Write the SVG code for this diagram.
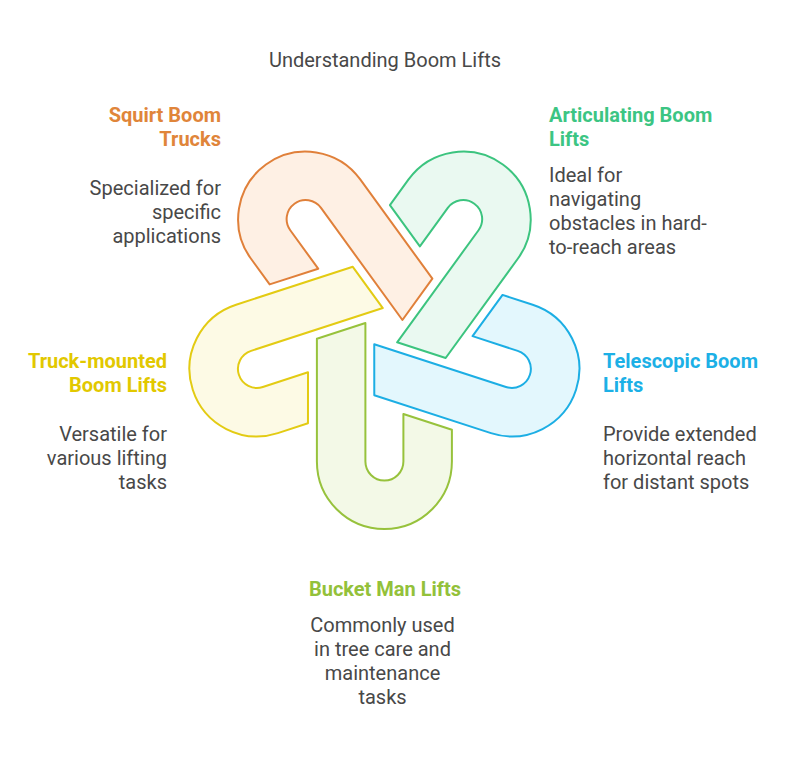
<svg xmlns="http://www.w3.org/2000/svg" width="794" height="759" viewBox="0 0 794 759">
  <defs>
    <path id="hook" d="M -67.5 -122.7 L -19 -138.5 L -19 0 A 19 19 0 0 0 19 0 L 19 -47.5 L 67.5 -31.7 L 67.5 0 A 67.5 67.5 0 0 1 -67.5 0 Z"/>
  </defs>
  <style>
    text { font-family: Roboto, "Liberation Sans", sans-serif; font-size: 20px; }
    .title { fill: #484848; }
    .desc { fill: #484848; }
    .head { font-weight: 700; }
    .end { text-anchor: end; }
    .mid { text-anchor: middle; }
    .hook { stroke-width: 2; stroke-linejoin: round; }
  </style>
  <rect width="794" height="759" fill="#ffffff"/>
  <text class="title mid" x="385" y="67">Understanding Boom Lifts</text>

  <g id="bucket-man-lifts">
    <use href="#hook" class="hook" fill="#F3F9E7" stroke="#97C23C" transform="translate(384.4,327.5) rotate(0) translate(0,134)"/>
    <text class="head mid" x="385" y="596" fill="#93C13A">Bucket Man Lifts</text>
    <text class="desc mid" x="382.5" y="632">Commonly used</text>
    <text class="desc mid" x="382.5" y="656">in tree care and</text>
    <text class="desc mid" x="382.5" y="680">maintenance</text>
    <text class="desc mid" x="382.5" y="704">tasks</text>
  </g>

  <g id="truck-mounted-boom-lifts">
    <use href="#hook" class="hook" fill="#FDFAE5" stroke="#E3CB13" transform="translate(384.4,327.5) rotate(72) translate(0,134)"/>
    <text class="head end" x="167" y="368" fill="#E2C800">Truck-mounted</text>
    <text class="head end" x="167" y="392" fill="#E2C800">Boom Lifts</text>
    <text class="desc end" x="167" y="441">Versatile for</text>
    <text class="desc end" x="167" y="465">various lifting</text>
    <text class="desc end" x="167" y="489">tasks</text>
  </g>

  <g id="squirt-boom-trucks">
    <use href="#hook" class="hook" fill="#FEF0E4" stroke="#E0803A" transform="translate(384.4,327.5) rotate(144) translate(0,134)"/>
    <text class="head end" x="221" y="122" fill="#E0853A">Squirt Boom</text>
    <text class="head end" x="221" y="146" fill="#E0853A">Trucks</text>
    <text class="desc end" x="221" y="195">Specialized for</text>
    <text class="desc end" x="221" y="219">specific</text>
    <text class="desc end" x="221" y="243">applications</text>
  </g>

  <g id="articulating-boom-lifts">
    <use href="#hook" class="hook" fill="#EAF9F1" stroke="#3CC47F" transform="translate(384.4,327.5) rotate(216) translate(0,134)"/>
    <text class="head" x="549" y="122" fill="#3CC583">Articulating Boom</text>
    <text class="head" x="549" y="146" fill="#3CC583">Lifts</text>
    <text class="desc" x="549" y="182">Ideal for</text>
    <text class="desc" x="549" y="206">navigating</text>
    <text class="desc" x="549" y="230">obstacles in hard-</text>
    <text class="desc" x="549" y="254">to-reach areas</text>
  </g>

  <g id="telescopic-boom-lifts">
    <use href="#hook" class="hook" fill="#E3F7FD" stroke="#1CAEE4" transform="translate(384.4,327.5) rotate(288) translate(0,134)"/>
    <text class="head" x="603" y="368" fill="#1CB0E6">Telescopic Boom</text>
    <text class="head" x="603" y="392" fill="#1CB0E6">Lifts</text>
    <text class="desc" x="603" y="441">Provide extended</text>
    <text class="desc" x="603" y="465">horizontal reach</text>
    <text class="desc" x="603" y="489">for distant spots</text>
  </g>

  <g id="connectors"></g>
</svg>
